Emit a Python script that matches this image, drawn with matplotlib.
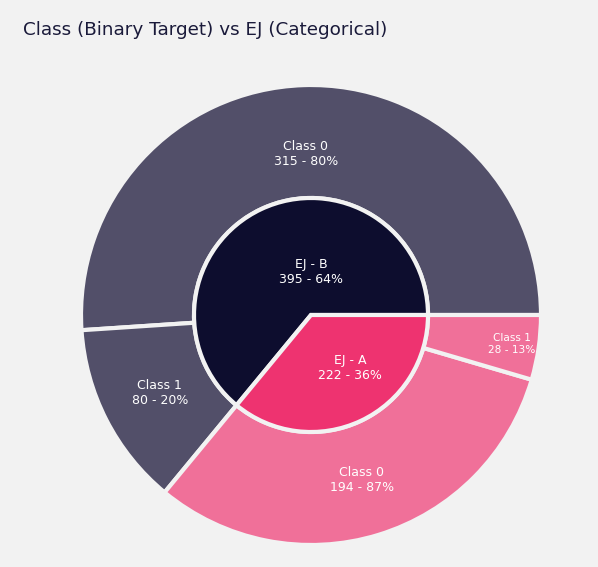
import numpy as np
import matplotlib.pyplot as plt
import matplotlib

matplotlib.rcParams.update({'font.family': 'DejaVu Sans'})

# data
inner_labels = ['EJ - B', 'EJ - A']
inner_counts = [395, 222]
inner_pct = [64, 36]
outer_labels = ['Class 0', 'Class 1', 'Class 0', 'Class 1']
outer_counts = [315, 80, 194, 28]
outer_pct = [80, 20, 87, 13]

inner_colors = ['#0d0d2e', '#ee3370']
outer_colors = ['#524f69', '#524f69', '#f07099', '#f07099']
bg = '#f2f2f2'

W, H = 598, 567
fig = plt.figure(figsize=(W / 100, H / 100), dpi=100, facecolor=bg)
ax = fig.add_axes([0, 0, 1, 1])
ax.set_facecolor(bg)

cx, cy = 311, H - 315
R_out, R_in = 230, 117
edge = dict(edgecolor=bg, linewidth=3.0)

outer, _ = ax.pie(outer_counts, colors=outer_colors, radius=R_out, center=(cx, cy),
                  startangle=0, counterclock=True,
                  wedgeprops=dict(width=R_out - R_in, **edge), frame=True)
inner, _ = ax.pie(inner_counts, colors=inner_colors, radius=R_in, center=(cx, cy),
                  startangle=0, counterclock=True, wedgeprops=edge, frame=True)
ax.set_xlim(0, W)
ax.set_ylim(0, H)
ax.set_aspect('auto')
ax.axis('off')

# outer labels inside the ring
label_r = [161, 170, 173, 203]
for i, w in enumerate(outer):
    mid = np.deg2rad((w.theta1 + w.theta2) / 2)
    small = outer_pct[i] < 15
    fs = 7.6 if small else 9
    ax.text(cx + label_r[i] * np.cos(mid), cy + label_r[i] * np.sin(mid),
            f'{outer_labels[i]}\n{outer_counts[i]} - {outer_pct[i]}%',
            color='white', fontsize=fs, ha='center', va='center', linespacing=1.2)

# inner labels
inner_pos = [(0, 43), (39, -53)]
for i, w in enumerate(inner):
    dx, dy = inner_pos[i]
    ax.text(cx + dx, cy + dy, f'{inner_labels[i]}\n{inner_counts[i]} - {inner_pct[i]}%',
            color='white', fontsize=9, ha='center', va='center', linespacing=1.25)

fig.text(23 / W, 1 - 30 / H, 'Class (Binary Target) vs EJ (Categorical)',
         color='#1a1a3a', fontsize=13.2, ha='left', va='center')

fig.savefig('out.png', dpi=100, facecolor=bg)
